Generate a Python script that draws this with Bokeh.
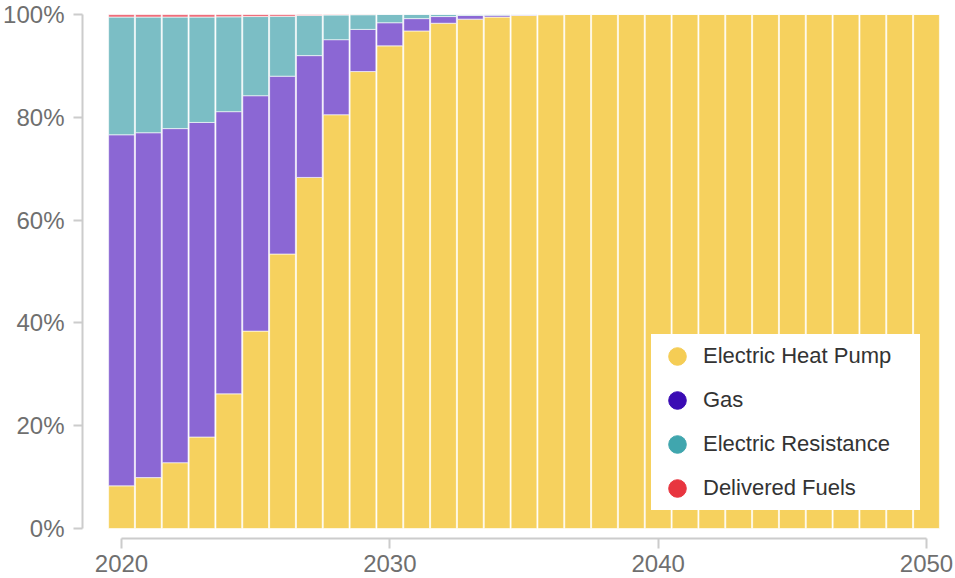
import numpy as np
from bokeh.plotting import figure
from bokeh.models import (ColumnDataSource, Range1d, FixedTicker, NumeralTickFormatter,
                          Legend, LegendItem)
from bokeh.embed import file_html
from bokeh.resources import INLINE

years = list(range(2020, 2051))
heat_pump = [8.3, 9.9, 12.8, 17.8, 26.2, 38.4, 53.4, 68.3, 80.5, 88.9, 93.9, 96.8, 98.3, 99.1,
             99.5, 99.8, 99.95] + [100.0] * 14
gas = [68.3, 67.1, 65.0, 61.2, 54.9, 45.8, 34.6, 23.7, 14.6, 8.2, 4.5, 2.4, 1.3, 0.7,
       0.35, 0.15, 0.05] + [0.0] * 14
resistance = [22.9, 22.5, 21.7, 20.5, 18.45, 15.4, 11.65, 7.8, 4.8, 2.85, 1.6, 0.8, 0.4, 0.2,
              0.15, 0.05, 0.0] + [0.0] * 14
delivered = [0.5, 0.5, 0.5, 0.5, 0.45, 0.4, 0.35, 0.2, 0.1, 0.05, 0.0, 0.0, 0.0, 0.0,
             0.0, 0.0, 0.0] + [0.0] * 14

series = ["Electric Heat Pump", "Gas", "Electric Resistance", "Delivered Fuels"]
bar_colors = ["#F6D15E", "#8B67D4", "#7BBEC5", "#EE6E7B"]
legend_colors = ["#F5CD55", "#3A0BB4", "#40A6AE", "#E8353F"]
y_ticks = [0, 0.2, 0.4, 0.6, 0.8, 1.0]
x_ticks = [2020, 2030, 2040, 2050]

src = ColumnDataSource(dict(
    year=years,
    hp=[v / 100 for v in heat_pump],
    gas=[v / 100 for v in gas],
    res=[v / 100 for v in resistance],
    dl=[v / 100 for v in delivered],
))

p = figure(width=955, height=578, output_backend="svg", toolbar_location=None,
           x_range=Range1d(2018.547, 2051.08), y_range=Range1d(-0.01946, 1.0),
           min_border_left=82, min_border_top=14, min_border_right=0, min_border_bottom=40)
p.outline_line_color = None
p.xgrid.visible = False
p.ygrid.visible = False
p.background_fill_color = "white"

p.vbar_stack(["hp", "gas", "res", "dl"], x="year", width=0.96, source=src,
             color=bar_colors, line_color="white", line_alpha=0.6, line_width=1)

for ax in (p.xaxis[0], p.yaxis[0]):
    ax.axis_line_color = "#cccccc"
    ax.axis_line_width = 2
    ax.major_tick_line_color = "#cccccc"
    ax.major_tick_line_width = 2
    ax.minor_tick_line_color = None
    ax.major_tick_in = 0
    ax.major_label_text_font = "Liberation Sans"
    ax.major_label_text_color = "#6f6f6f"
    ax.major_label_text_font_size = "24px"

p.xaxis.ticker = FixedTicker(ticks=x_ticks)
p.xaxis.bounds = (2020, 2050)
p.xaxis.major_tick_out = 10
p.xaxis.major_label_standoff = 6

p.yaxis.ticker = FixedTicker(ticks=y_ticks)
p.yaxis.formatter = NumeralTickFormatter(format="0%")
p.yaxis.bounds = (0, 1)
p.yaxis.major_tick_out = 9
p.yaxis.major_label_standoff = 9

items = []
for name, c in zip(series, legend_colors):
    lsrc = ColumnDataSource(dict(x=[years[0]], y=np.array([np.nan])))
    r = p.scatter(x="x", y="y", source=lsrc, marker="circle", fill_color=c, line_color=c)
    items.append(LegendItem(label=name, renderers=[r]))

legend = Legend(items=items, location=(569, 28), background_fill_color="white",
                background_fill_alpha=1.0, border_line_color=None,
                glyph_width=52, glyph_height=44, spacing=0, padding=0,
                label_standoff=0, label_width=217,
                label_text_font="Liberation Sans", label_text_font_size="22px",
                label_text_color="#333333", margin=0)
p.add_layout(legend)

open("out.html", "w").write(file_html(p, INLINE))
